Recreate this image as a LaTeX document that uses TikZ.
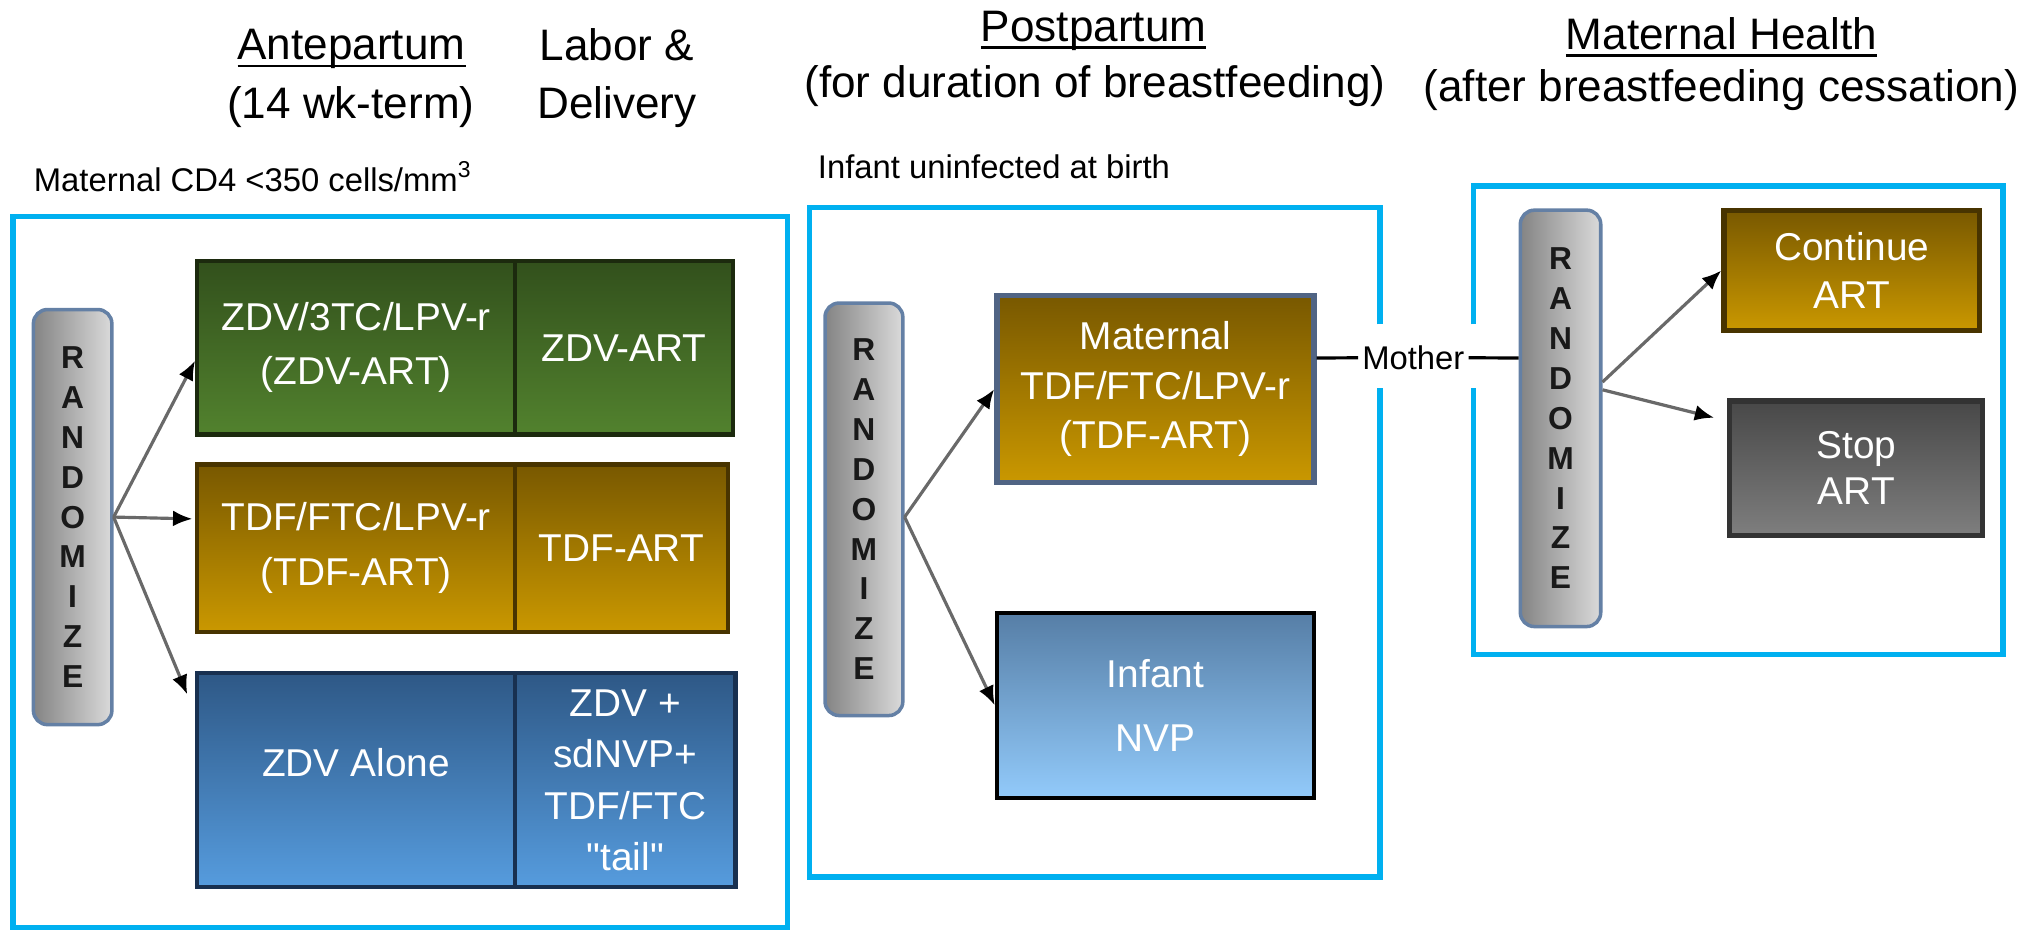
\documentclass[tikz,border=0pt]{standalone}
\usepackage{fontspec}
\setmainfont{Liberation Sans}
\newfontfamily\qsans{Liberation Sans}[Ligatures=ResetAll]
\usetikzlibrary{arrows.meta,calc}
\definecolor{frameblue}{RGB}{0,176,240}
\definecolor{pillL}{RGB}{132,132,132}
\definecolor{pillR}{RGB}{218,218,218}
\definecolor{pillB}{RGB}{100,128,165}
\definecolor{arrgray}{RGB}{105,105,105}
\definecolor{grTop}{RGB}{50,80,28}
\definecolor{grBot}{RGB}{82,130,46}
\definecolor{grBd}{RGB}{28,42,14}
\definecolor{goTop}{RGB}{120,88,0}
\definecolor{goBot}{RGB}{202,152,0}
\definecolor{goBd}{RGB}{72,52,0}
\definecolor{blTop}{RGB}{46,88,134}
\definecolor{blBot}{RGB}{86,156,222}
\definecolor{blBd}{RGB}{24,48,80}
\definecolor{inTop}{RGB}{86,126,166}
\definecolor{inBot}{RGB}{146,202,250}
\definecolor{stTop}{RGB}{72,72,72}
\definecolor{stBot}{RGB}{126,126,126}
\definecolor{matBd}{RGB}{80,100,132}
\def\uu{0.3677pt}
\newcommand\myul[1]{\setbox0=\hbox{#1}\rlap{\rule[-2.2pt]{\wd0}{0.8pt}}\box0}
\begin{document}
\begin{tikzpicture}[x=0.3677pt,y=-0.3677pt,
  hdr/.style={font=\fontsize{12.5}{15}\selectfont, inner sep=0pt, anchor=base},
  smalltxt/.style={font=\fontsize{9.3}{11}\selectfont, inner sep=0pt, anchor=base west},
  cell/.style={inner sep=0pt, align=center, text=white, font=\fontsize{11}{15.4}\selectfont, line width=1.2pt},
  green/.style={cell, top color=grTop, bottom color=grBot, draw=grBd},
  gold/.style={cell, top color=goTop, bottom color=goBot, draw=goBd},
  blue/.style={cell, top color=blTop, bottom color=blBot, draw=blBd},
  pill/.style={rounded corners=4pt, left color=pillL, right color=pillR, draw=pillB, line width=1pt, inner sep=0pt, align=center, text=black!90, font=\fontsize{9}{11.3}\selectfont\bfseries},
  frame/.style={draw=frameblue, line width=1.6pt},
  arr/.style={draw=arrgray, line width=0.9pt, -{Latex[length=5.5pt,width=4.5pt,color=black]}},
  mline/.style={draw=black, line width=0.9pt}]
\useasboundingbox (0,0) rectangle (1568,718);

% headers
\node[hdr] (ante) at (271,46) {\myul{Antepartum}};
\node[hdr] (antewk) at (270.5,91) {(14 wk-term)};
\node[hdr] (labor) at (475.5,47) {Labor \&};
\node[hdr] (deliv) at (475.5,91) {Delivery};
\node[hdr] (post) at (843,32) {\myul{Postpartum}};
\node[hdr] (postdur) at (844,75) {(for duration of breastfeeding)};
\node[hdr] (mh) at (1327,38) {\myul{Maternal Health}};
\node[hdr] (mhafter) at (1327,78) {(after breastfeeding cessation)};
\node[smalltxt] (cd4) at (25.6,147.5) {Maternal CD4 <350 cells/mm\textsuperscript{3}};
\node[smalltxt] (uninf) at (630,137.3) {Infant uninfected at birth};

% frames
\draw[frame] (10,167) rectangle (607,715);
\draw[frame] (1064,250) -- (1064,160) -- (624,160) -- (624,676) -- (1064,676) -- (1064,299);
\draw[frame] (1136,250) -- (1136,143.4) -- (1544,143.4) -- (1544,504.5) -- (1136,504.5) -- (1136,299);

% left panel
\node[pill, minimum width=60.5*\uu, minimum height=320*\uu] (r1) at (56,398.6) {R\\A\\N\\D\\O\\M\\I\\Z\\E};
\node[green, minimum width=245*\uu, minimum height=134*\uu] (g1) at (274.5,268) {ZDV/3TC/LPV-r\\(ZDV-ART)};
\node[green, minimum width=168*\uu, minimum height=134*\uu] (g2) at (481,268) {ZDV-ART};
\node[gold, minimum width=245*\uu, minimum height=129*\uu] (o1) at (274.5,422.5) {TDF/FTC/LPV-r\\(TDF-ART)};
\node[gold, minimum width=164*\uu, minimum height=129*\uu] (o2) at (479,422.5) {TDF-ART};
\node[blue, minimum width=245*\uu, minimum height=165*\uu] (b1) at (274.5,601.5) {\raisebox{1.2pt}[0pt][0pt]{ZDV Alone}};
\node[blue, minimum width=170*\uu, minimum height=165*\uu, font=\fontsize{11}{14.6}\selectfont] (b2) at (482,601.5) {ZDV +\\sdNVP+\\TDF/FTC\\{\qsans"tail"}};

\draw[arr] (r1.east) -- ($(g1.west)+(0,10)$);
\draw[arr] (r1.east) -- ($(o1.west)+(-2,-22.5)$);
\draw[arr] (r1.east) -- ($(b1.north west)+(-6,18)$);

% middle panel
\node[pill, minimum width=60*\uu, minimum height=318*\uu] (r2) at (666,392.6) {R\\A\\N\\D\\O\\M\\I\\Z\\E};
\node[cell, top color=goTop, bottom color=goBot, draw=matBd, line width=1.5pt, font=\fontsize{11}{14}\selectfont, minimum width=244.4*\uu, minimum height=144.3*\uu] (mat) at (890.7,300) {Maternal\\TDF/FTC/LPV-r\\(TDF-ART)};
\node[cell, top color=inTop, bottom color=inBot, draw=black, font=\fontsize{11}{18}\selectfont, minimum width=244.4*\uu, minimum height=142.4*\uu] (inf) at (890.7,543.7) {Infant\\NVP};

\draw[arr] ($(r2.east)+(0,6)$) -- (mat.west);
\draw[arr] ($(r2.east)+(0,6)$) -- (inf.west);

% right panel
\node[pill, minimum width=62*\uu, minimum height=321*\uu] (r3) at (1203,322.5) {R\\A\\N\\D\\O\\M\\I\\Z\\E};
\node[cell, top color=goTop, bottom color=goBot, draw=goBd, line width=1.5pt, font=\fontsize{11}{13.5}\selectfont, minimum width=197*\uu, minimum height=93*\uu] (cont) at (1427.5,208.5) {Continue\\ART};
\node[cell, top color=stTop, bottom color=stBot, draw=black!80, line width=1.5pt, font=\fontsize{11}{13}\selectfont, minimum width=195*\uu, minimum height=103.5*\uu] (stop) at (1431,360.8) {Stop\\ART};

\draw[arr] ($(r3.east)+(0,-28)$) -- (cont.west);
\draw[arr] ($(r3.east)+(0,-22)$) -- ($(stop.north west)+(-10,15)$);

% mother connector
\node[font=\fontsize{9.3}{11}\selectfont, inner xsep=1pt, inner ysep=1pt] (mother) at (1089.5,275.5) {Mother};
\draw[mline] ($(mat.east)+(0,-24)$) -- (mother) -- ($(r3.west)+(0,-46.5)$);
\end{tikzpicture}
\end{document}
